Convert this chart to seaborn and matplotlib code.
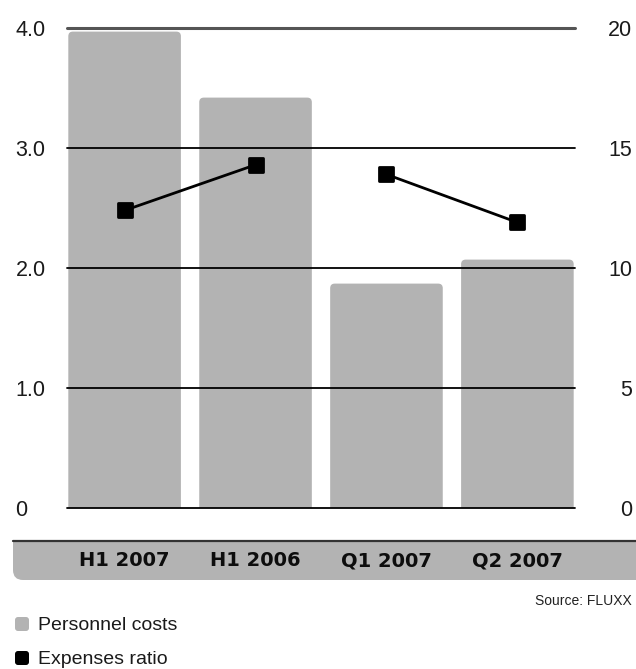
import numpy as np
import pandas as pd
import matplotlib
matplotlib.use("Agg")
import matplotlib.pyplot as plt
from matplotlib.patches import FancyBboxPatch, Rectangle
from matplotlib.markers import MarkerStyle
from matplotlib.transforms import Affine2D
import seaborn as sns

# --- data -------------------------------------------------------------
periods = ["H1 2007", "H1 2006", "Q1 2007", "Q2 2007"]
personnel_costs = [3.97, 3.42, 1.87, 2.07]          # left axis
expenses_ratio = [12.4, 14.3, 13.9, 11.9]           # right axis
ratio_segment = [0, 0, 1, 1]                        # half-year vs quarter pairs
left_ticks = [0, 1.0, 2.0, 3.0, 4.0]
left_labels = ["0", "1.0", "2.0", "3.0", "4.0"]
right_ticks = [0, 5, 10, 15, 20]
right_labels = ["0", "5", "10", "15", "20"]
source_note = "Source: FLUXX"
legend_labels = ["Personnel costs", "Expenses ratio"]

BAR = "#b3b3b3"
W, H = 636, 669

sns.set_theme(style="white")
plt.rcParams["font.family"] = ["Liberation Sans", "DejaVu Sans"]

fig = plt.figure(figsize=(W / 100, H / 100), dpi=100)
px = Affine2D().scale(1 / W, -1 / H).translate(0, 1) + fig.transFigure

ax = fig.add_axes([67 / W, 1 - 508 / H, (575 - 67) / W, (508 - 28) / H])
ax.set_zorder(2)

df = pd.DataFrame({"period": periods, "costs": personnel_costs,
                   "ratio": expenses_ratio, "segment": ratio_segment,
                   "pos": np.arange(len(periods))})

sns.barplot(data=df, x="period", y="costs", color=BAR, width=0.86,
            saturation=1, ax=ax, zorder=1)

# give bars softly rounded top corners
for p in list(ax.patches):
    x0, w, h = p.get_x(), p.get_width(), p.get_height()
    p.set_visible(False)
    ax.add_patch(FancyBboxPatch((x0, -0.2), w, h + 0.2,
                                boxstyle="round,pad=0,rounding_size=0.035",
                                mutation_aspect=1.1, fc=BAR, ec="none",
                                zorder=1))

ax.set_xlim(-0.44, 3.44)
ax.set_ylim(0, 4.0)

# horizontal rules over the bars
for v in left_ticks:
    if v == 4.0:
        ax.axhline(v, color="#555555", lw=2.2, zorder=3, clip_on=False)
    else:
        ax.axhline(v, color="black", lw=1.3, zorder=3, clip_on=False)

ax.set_yticks(left_ticks)
ax.set_yticklabels(left_labels)
ax.tick_params(axis="y", length=0, pad=37, labelsize=15.5, labelcolor="#1a1a1a")
for t in ax.get_yticklabels():
    t.set_ha("left")

ax.set_xticks(range(len(periods)))
ax.set_xticklabels(periods)
ax.tick_params(axis="x", length=0, pad=31, labelsize=14, labelcolor="#0d0d0d")
for t in ax.get_xticklabels():
    t.set_fontweight("bold")
    t.set_family(["DejaVu Sans"])
ax.set_xlabel("")
ax.set_ylabel("")
for s in ax.spines.values():
    s.set_visible(False)

# expense ratio on the secondary axis
ax2 = ax.twinx()
ax2.set_zorder(3)
ax2.patch.set_visible(False)
sq = MarkerStyle("s", joinstyle="round")
sns.lineplot(data=df, x="pos", y="ratio", units="segment", estimator=None,
             color="black", lw=2, marker=sq, markersize=10,
             markeredgewidth=2, markeredgecolor="black",
             markerfacecolor="black", ax=ax2, legend=False, zorder=5)
ax2.set_ylim(0, 20)
ax2.set_xlim(-0.44, 3.44)
ax2.set_yticks(right_ticks)
ax2.set_yticklabels(right_labels)
ax2.tick_params(axis="y", length=0, pad=41, labelsize=15.5, labelcolor="#1a1a1a")
for t in ax2.get_yticklabels():
    t.set_ha("right")
ax2.set_xlabel("")
ax2.set_ylabel("")
ax2.grid(False)
for s in ax2.spines.values():
    s.set_visible(False)

# category band behind the period labels
band = FancyBboxPatch((13, 540), 700, 40, boxstyle="round,pad=0,rounding_size=10",
                      transform=px, fc=BAR, ec="none", zorder=-5)
fig.patches.append(band)
fig.patches.append(Rectangle((13, 540), 700, 15, transform=px, fc=BAR,
                             ec="none", zorder=-5))
fig.lines.append(plt.Line2D([13, 636], [540.5, 540.5], transform=px,
                            color="#333333", lw=1.6, zorder=-4))

fig.text(632, 601, source_note, transform=px, ha="right", va="center",
         fontsize=10, color="#222222",
         family=["Liberation Sans Narrow", "Liberation Sans"])

# legend
for i, (lab, col) in enumerate(zip(legend_labels, [BAR, "black"])):
    yc = 624 + i * 34
    fig.patches.append(FancyBboxPatch((15, yc - 7), 14, 14,
                                      boxstyle="round,pad=0,rounding_size=3",
                                      transform=px, fc=col, ec="none"))
    fig.text(38, yc + 1, lab, transform=px, ha="left", va="center",
             fontsize=14, color="#1a1a1a")

fig.savefig("out.png", dpi=100)
